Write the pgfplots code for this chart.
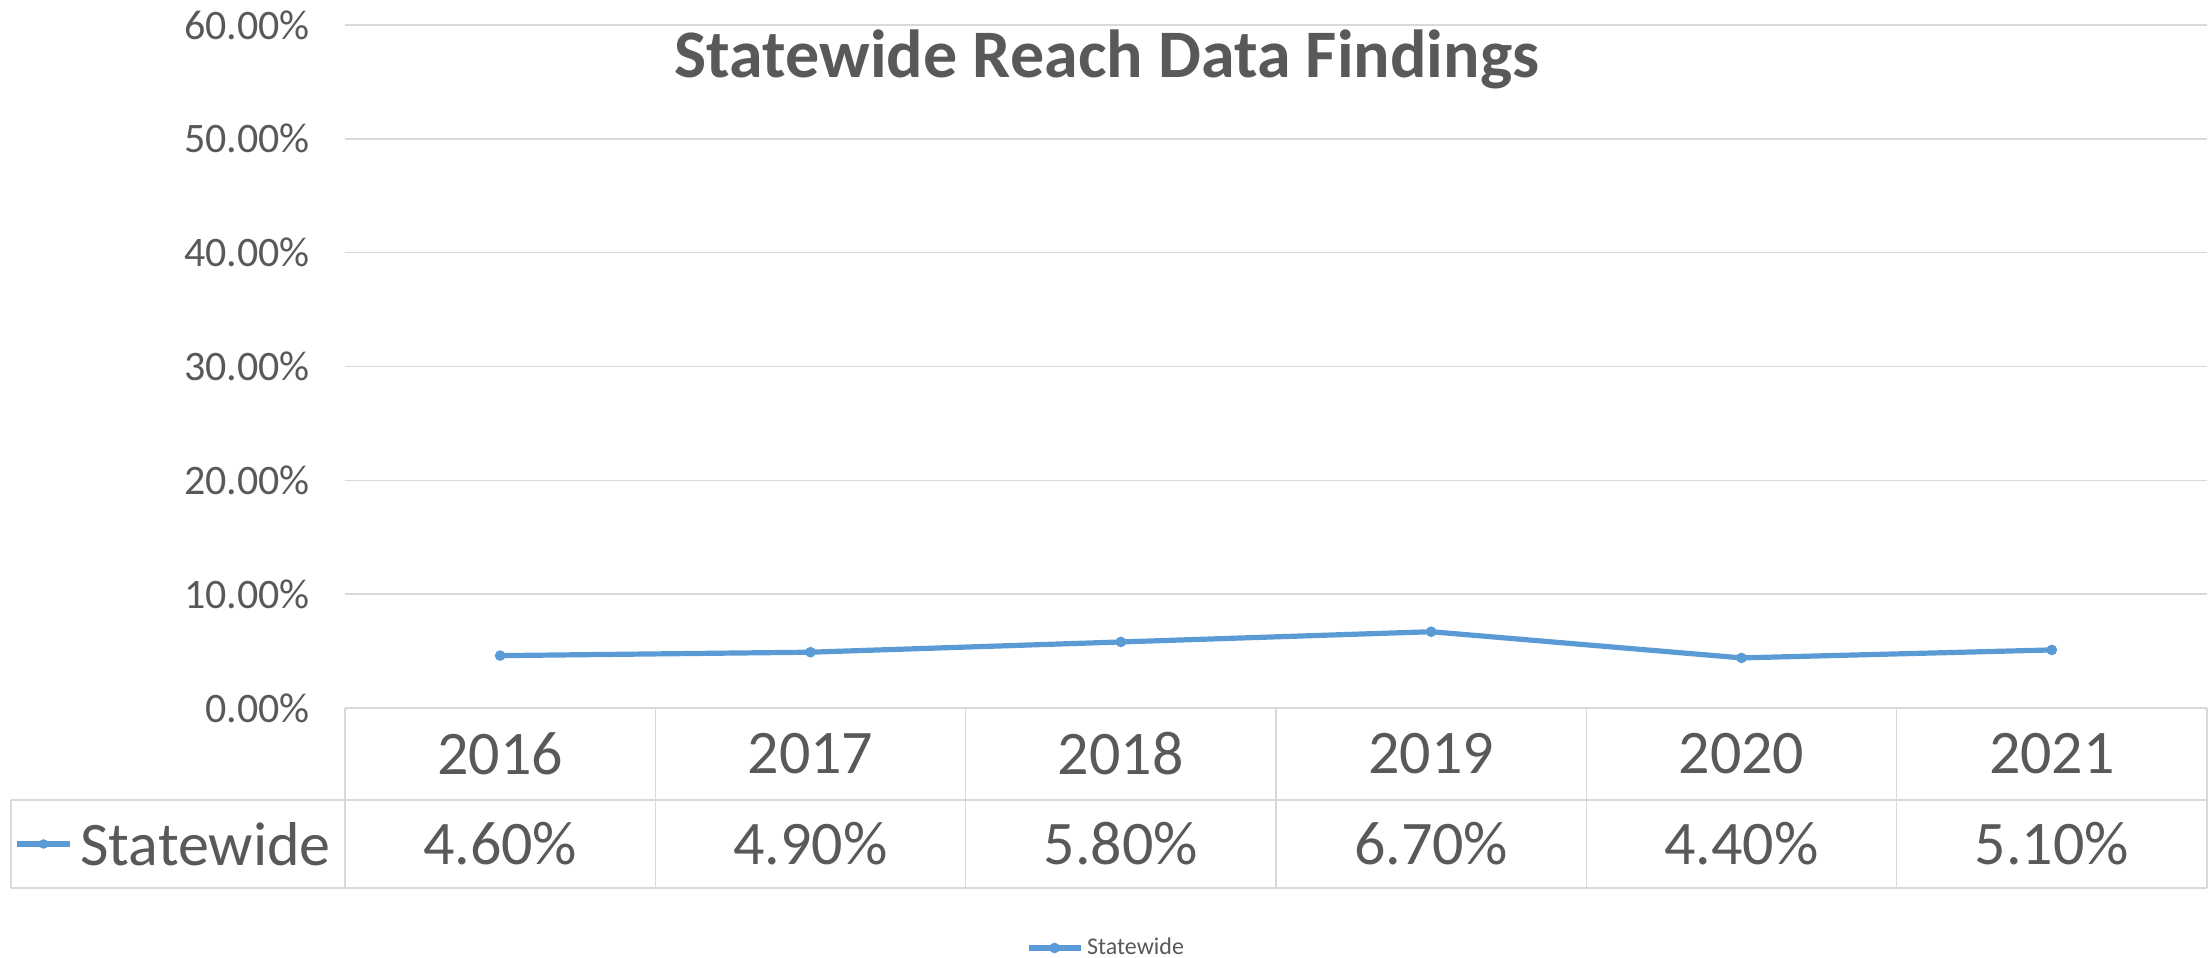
\documentclass[border=0pt]{standalone}
\usepackage{fontspec}
\setmainfont{Carlito}
\usepackage{pgfplots}
\usepackage{pgfplotstable}
\pgfplotsset{compat=1.18}

\definecolor{linecol}{HTML}{5B9BD5}
\definecolor{textcol}{HTML}{595959}
\definecolor{gridcol}{HTML}{D9D9D9}

\pgfplotstableread{
x year val
0 2016 4.6
1 2017 4.9
2 2018 5.8
3 2019 6.7
4 2020 4.4
5 2021 5.1
}\statedata

\begin{document}
\begin{tikzpicture}
\begin{axis}[
    name=ax,
    scale only axis,
    width=931pt, height=341.5pt,
    xmin=-0.5, xmax=5.5,
    ymin=0, ymax=60,
    ytick={0,10,...,60},
    xtick={0,1,2,3,4,5},
    /pgf/number format/assume math mode=true,
    yticklabel={\pgfmathprintnumber[fixed,fixed zerofill,precision=2]{\tick}\%},
    xticklabel={\pgfplotstablegetelem{\ticknum}{year}\of\statedata\pgfplotsretval},
    yticklabel style={font=\fontsize{21}{24}\selectfont, text=textcol, xshift=-14pt},
    xticklabel style={font=\fontsize{31}{36}\selectfont, text=textcol, anchor=center, yshift=-23pt},
    extra x ticks={0,1,2,3,4,5},
    extra x tick style={
        xticklabel={\pgfplotstablegetelem{\ticknum}{val}\of\statedata\pgfmathprintnumber[fixed,fixed zerofill,precision=2]{\pgfplotsretval}\%},
        xticklabel style={yshift=-45pt}},
    major tick length=0pt,
    axis line style={draw=none},
    ymajorgrids=true,
    grid style={gridcol, line width=0.7pt},
    clip=false,
    legend style={at={(0.5,0)}, anchor=center, yshift=-120pt, xshift=-84.5pt, draw=none,
        font=\fontsize{12}{14}\selectfont, text=textcol},
    legend image code/.code={
        \draw[mark repeat=2, mark phase=2] plot coordinates {(0pt,0pt) (13pt,0pt) (26pt,0pt)};},
]
\addplot[linecol, line width=2.6pt, mark=*, mark size=2.4pt,
    mark options={fill=linecol, draw=linecol, line width=0.5pt}]
    table[x=x, y=val] {\statedata};
\legend{Statewide}

% data table grid
\draw[gridcol, line width=0.7pt] (axis cs:-0.5,0) -- (axis cs:5.5,0);
\draw[gridcol, line width=0.7pt] ([xshift=-167pt, yshift=-46pt]axis cs:-0.5,0) -- ([yshift=-46pt]axis cs:5.5,0);
\draw[gridcol, line width=0.7pt] ([xshift=-167pt, yshift=-90pt]axis cs:-0.5,0) -- ([yshift=-90pt]axis cs:5.5,0);
\draw[gridcol, line width=0.7pt] ([xshift=-167pt, yshift=-46pt]axis cs:-0.5,0) -- ([xshift=-167pt, yshift=-90pt]axis cs:-0.5,0);
\pgfplotsinvokeforeach{-0.5,0.5,1.5,2.5,3.5,4.5,5.5}{
    \draw[gridcol, line width=0.7pt] (axis cs:#1,0) -- ([yshift=-90pt]axis cs:#1,0);
}
% row key
\draw[linecol, line width=2.6pt] ([xshift=-164pt, yshift=-68pt]axis cs:-0.5,0) -- ([xshift=-137.5pt, yshift=-68pt]axis cs:-0.5,0);
\fill[linecol] ([xshift=-150.7pt, yshift=-68pt]axis cs:-0.5,0) circle (2.4pt);
\node[anchor=west, text=textcol, font=\fontsize{31}{36}\selectfont, inner sep=0pt]
    at ([xshift=-132.5pt, yshift=-68pt]axis cs:-0.5,0) {Statewide};

% title
\node[text=textcol, font=\fontsize{34}{40}\selectfont\bfseries]
    at ([xshift=-84.5pt, yshift=-17pt]rel axis cs:0.5,1) {Statewide Reach Data Findings};
\end{axis}
\pgfresetboundingbox
\path ([xshift=-172.5pt, yshift=-125pt]ax.south west) rectangle ([xshift=2pt, yshift=12.5pt]ax.north east);
\end{tikzpicture}
\end{document}
